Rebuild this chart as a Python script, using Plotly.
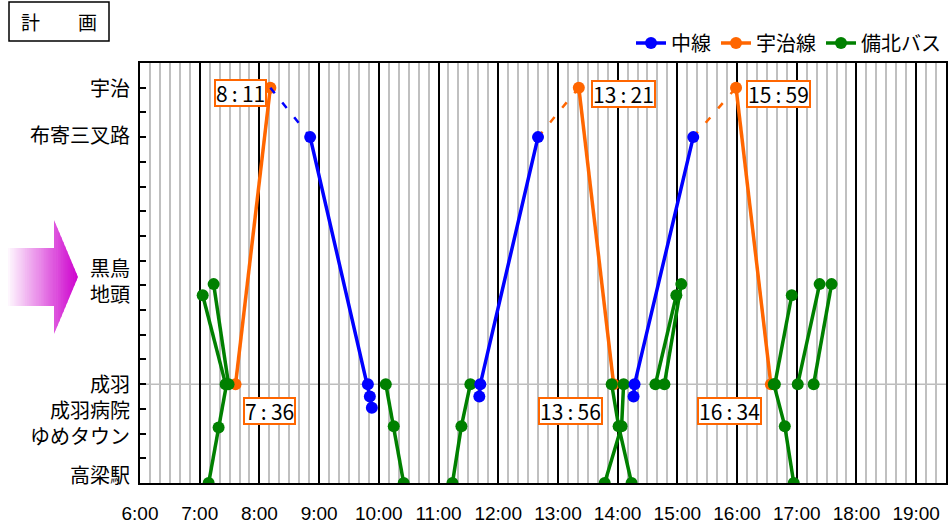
import plotly.graph_objects as go

# ---------------- data ----------------
hours = list(range(6, 20))
hour_labels = [f"{h}:00" for h in hours]

stop_labels = ["宇治", "布寄三叉路", "黒鳥<br>地頭", "成羽<br>成羽病院<br>ゆめタウン", "高梁駅"]
stop_label_pos = [16, 14.1, 8.2, 2.96, 0.33]
hub_pos = 4  # 成羽

# 中線 (solid trips)
chu_trips_time = [["8:51", "9:49", "9:51", "9:53"],
                  ["11:41", "11:42", "12:40"],
                  ["14:16", "14:17", "15:16"]]
chu_trips_pos = [[14, 4, 3.5, 3.05],
                 [3.5, 4, 14],
                 [3.5, 4, 14]]
# 中線 dashed link
chu_link_time = [["8:11", "8:51"]]
chu_link_pos = [[16, 14]]

# 宇治線
uji_trips_time = [["7:36", "8:11"], ["13:21", "13:56"], ["15:59", "16:34"]]
uji_trips_pos = [[4, 16], [16, 4], [16, 4]]
uji_link_time = [["12:40", "13:21"], ["15:16", "15:59"]]
uji_link_pos = [[14, 16], [14, 16]]

# 備北バス
bus_trips_time = [["7:03", "7:26"], ["7:14", "7:29"], ["7:09", "7:19", "7:27"],
                  ["10:07", "10:15", "10:25"], ["11:14", "11:23", "11:32"],
                  ["13:54", "14:01", "14:14"], ["13:47", "14:04", "14:06"],
                  ["14:38", "14:59"], ["14:47", "15:04"],
                  ["16:37", "16:48", "16:57"], ["16:38", "16:55"],
                  ["17:01", "17:23"], ["17:17", "17:35"]]
bus_trips_pos = [[7.6, 4], [8.05, 4], [0, 2.25, 4],
                 [4, 2.3, 0], [0, 2.3, 4],
                 [4, 2.3, 0], [0, 2.3, 4],
                 [4, 7.6], [4, 8.05],
                 [4, 2.3, 0], [4, 7.6],
                 [4, 8.05], [4, 8.05]]

# labelled times (宇治線 ends)
label_times = ["8:11", "7:36", "13:21", "13:56", "15:59", "16:34"]
label_pos = [16, 4, 16, 4, 16, 4]

BLUE = "#0000FF"
ORANGE = "#FF6600"
GREEN = "#008000"


def to_h(s):
    h, m = s.split(":")
    return int(h) + int(m) / 60


def join(trips_t, trips_p):
    xs, ys = [], []
    for t, p in zip(trips_t, trips_p):
        xs += [to_h(v) for v in t] + [None]
        ys += list(p) + [None]
    return xs, ys


fig = go.Figure()

LW = 3.5
MS = 12
# orange (宇治線) bottom
x, y = join(uji_trips_time, uji_trips_pos)
fig.add_trace(go.Scatter(x=x, y=y, mode="lines+markers", name="宇治線", legendrank=2,
                         line=dict(color=ORANGE, width=LW), marker=dict(size=MS, color=ORANGE)))
x, y = join(uji_link_time, uji_link_pos)
fig.add_trace(go.Scatter(x=x, y=y, mode="lines", showlegend=False,
                         line=dict(color=ORANGE, width=2.5, dash="7px,12px")))
# green
x, y = join(bus_trips_time, bus_trips_pos)
fig.add_trace(go.Scatter(x=x, y=y, mode="lines+markers", name="備北バス", legendrank=3,
                         line=dict(color=GREEN, width=LW), marker=dict(size=MS, color=GREEN)))
# blue
x, y = join(chu_link_time, chu_link_pos)
fig.add_trace(go.Scatter(x=x, y=y, mode="lines", showlegend=False,
                         line=dict(color=BLUE, width=2.5, dash="7px,12px")))
x, y = join(chu_trips_time, chu_trips_pos)
fig.add_trace(go.Scatter(x=x, y=y, mode="lines+markers", name="中線", legendrank=1,
                         line=dict(color=BLUE, width=LW), marker=dict(size=MS, color=BLUE)))

# ---------------- layout ----------------
W, H = 951, 527
L, R, T, B = 140, 5, 63, 44
PW, PH = W - L - R, H - T - B


def px(xp):
    return (xp - L) / PW


def py(yp):
    return (H - B - yp) / PH


shapes = []
# grey line at hub stop
shapes.append(dict(type="line", xref="paper", yref="y", x0=0, x1=1, y0=hub_pos, y1=hub_pos,
                   line=dict(color="#BDBDBD", width=1.5), layer="below"))
# title box
shapes.append(dict(type="rect", xref="paper", yref="paper", x0=px(9), x1=px(109), y0=py(41), y1=py(2),
                   line=dict(color="black", width=1.5), fillcolor="white"))

# gradient arrow
bx0, bx1, by0, by1 = 8, 54, 248, 306
hx1, hy0, hy1, tipy = 78, 220, 334, 277
N = 37
step = (hx1 - bx0) / N


def ytop(xv):
    if xv <= bx1:
        return by0
    return hy0 + (tipy - hy0) * (xv - bx1) / (hx1 - bx1)


def ybot(xv):
    if xv <= bx1:
        return by1
    return hy1 - (hy1 - tipy) * (xv - bx1) / (hx1 - bx1)


for i in range(N):
    xa = bx0 + i * step
    xb = min(xa + step + 0.6, hx1)
    t = (xa + step / 2 - bx0) / (hx1 - bx0)
    r = int(255 - 50 * t)
    g = int(250 * (1 - t) ** 1.0)
    b = int(255 - 50 * t)
    col = f"rgb({r},{g},{b})"
    if xb <= bx1 + 0.01:
        pts = [(xa, by0), (xb, by0), (xb, by1), (xa, by1)]
    elif xa >= bx1:
        pts = [(xa, ytop(xa)), (xb, ytop(xb)), (xb, ybot(xb)), (xa, ybot(xa))]
    else:
        pts = [(xa, by0), (bx1, by0), (bx1, hy0), (xb, ytop(xb)), (xb, ybot(xb)), (bx1, hy1), (bx1, by1), (xa, by1)]
    path = "M " + " L ".join(f"{px(a):.5f},{py(c):.5f}" for a, c in pts) + " Z"
    shapes.append(dict(type="path", xref="paper", yref="paper", path=path, fillcolor=col,
                       line=dict(width=0), layer="above"))

annotations = []
annotations.append(dict(xref="paper", yref="paper", x=px(59), y=py(21.5), text="計\u3000\u3000画",
                        showarrow=False, font=dict(size=19, color="black"), xanchor="center", yanchor="middle"))
for name, pos in zip(stop_labels, stop_label_pos):
    annotations.append(dict(xref="paper", yref="y", x=0, y=pos, text=name, showarrow=False,
                            xanchor="right", yanchor="middle", xshift=-8, align="right",
                            font=dict(size=20, color="black")))

label_style = {
    "8:11": dict(xanchor="right", xshift=-3, yshift=-5),
    "7:36": dict(xanchor="left", xshift=7, yshift=-27),
    "13:21": dict(xanchor="left", xshift=12, yshift=-6),
    "13:56": dict(xanchor="right", xshift=-11, yshift=-27),
    "15:59": dict(xanchor="left", xshift=10, yshift=-6),
    "16:34": dict(xanchor="right", xshift=-9, yshift=-27),
}
for tm, pos in zip(label_times, label_pos):
    st = label_style[tm]
    hh, mm = tm.split(":")
    annotations.append(dict(x=to_h(tm), y=pos, xref="x", yref="y",
                            text=f"{hh}\u2009:\u2009{mm}", showarrow=False,
                            xanchor=st["xanchor"], yanchor="middle",
                            xshift=st["xshift"], yshift=st["yshift"], height=24,
                            font=dict(size=21, color="black"),
                            bgcolor="white", bordercolor=ORANGE, borderwidth=2, borderpad=0))

fig.update_layout(
    width=W, height=H,
    margin=dict(l=L, r=R, t=T, b=B, autoexpand=False),
    plot_bgcolor="white", paper_bgcolor="white",
    font=dict(family="Noto Sans CJK JP", color="black"),
    showlegend=True,
    legend=dict(orientation="h", x=1, xanchor="right", y=py(43), yanchor="middle",
                font=dict(size=20), bgcolor="rgba(0,0,0,0)", traceorder="normal"),
    xaxis=dict(range=[6, 19.5], tickmode="array", tickvals=hours, ticktext=hour_labels,
               showgrid=True, gridcolor="black", gridwidth=1.5,
               minor=dict(tickmode="linear", tick0=6, dtick=1 / 6, showgrid=True,
                          gridcolor="#C0C0C0", gridwidth=2),
               showline=True, linecolor="black", linewidth=2, mirror=True,
               ticks="", zeroline=False, ticklabelstandoff=12, automargin=False,
               tickfont=dict(family="Liberation Sans", size=19, color="black")),
    yaxis=dict(range=[0, 17], tickmode="linear", tick0=0, dtick=1, ticks="inside", ticklen=6,
               tickwidth=1.5, tickcolor="black", showticklabels=False, showgrid=False,
               zeroline=False, showline=True, linecolor="black", linewidth=2, mirror=True,
               automargin=False),
    shapes=shapes,
    annotations=annotations,
)

fig.write_html("out.html", config={"displayModeBar": False},
               post_script="document.body.style.margin='0px';document.body.style.padding='0px';"
                           "document.documentElement.style.overflow='hidden';")
